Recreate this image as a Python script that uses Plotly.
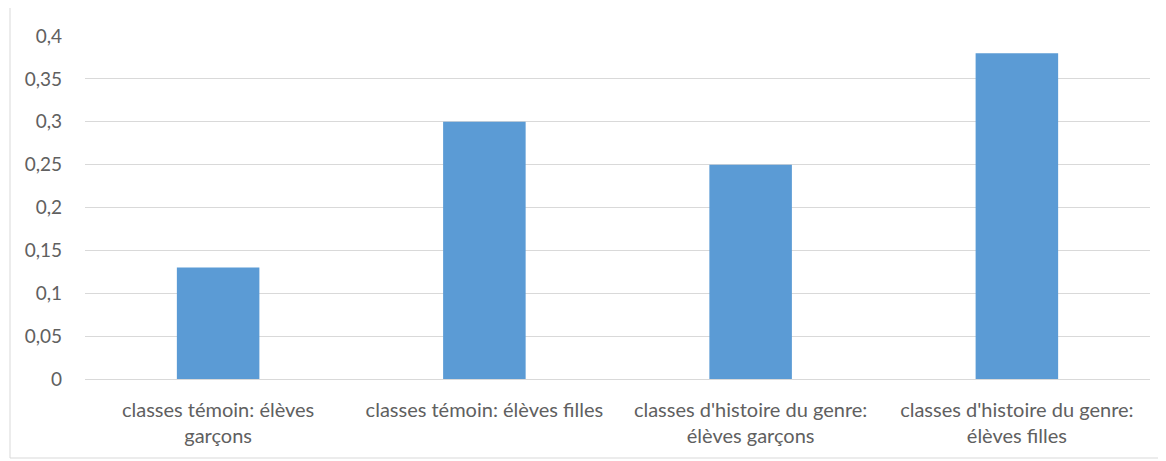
import plotly.graph_objects as go

categories = [
    "classes témoin: élèves<br>garçons",
    "classes témoin: élèves filles",
    "classes d'histoire du genre:<br>élèves garçons",
    "classes d'histoire du genre:<br>élèves filles",
]
values = [0.13, 0.30, 0.25, 0.38]
y_ticks = [0, 0.05, 0.1, 0.15, 0.2, 0.25, 0.3, 0.35, 0.4]

# page body has an 8px default margin, so the figure is sized to fit the window
W, H = 1158, 453
ml, mr, mt, mb = 77, 16, 28, 82
pw, ph = W - ml - mr, H - mt - mb
txt = "#606060"

fig = go.Figure(go.Bar(
    x=categories, y=values,
    marker=dict(color="#5B9BD5", line=dict(width=0)),
    hoverinfo="skip",
))

fig.update_layout(
    width=W, height=H,
    margin=dict(l=ml, r=mr, t=mt, b=mb, pad=0),
    paper_bgcolor="white", plot_bgcolor="white",
    separators=", ",
    bargap=0.69,
    showlegend=False,
    font=dict(family="Lato, Carlito, Calibri, sans-serif", size=20, color=txt),
)
fig.update_xaxes(
    showgrid=False, showline=True, linecolor="#d9d9d9", linewidth=1,
    ticks="", ticklabelstandoff=13, tickfont=dict(size=20, color=txt),
    automargin=False,
)
fig.update_yaxes(
    range=[0, 0.4], tickvals=y_ticks,
    showgrid=True, gridcolor="#d9d9d9", gridwidth=1,
    zeroline=False, showline=False, ticks="",
    ticklabelstandoff=22, tickfont=dict(size=19, color=txt),
    automargin=False,
)
# chart-area border (left and bottom edges visible)
bx = (2 - ml) / pw
by = -(450 - (H - mb)) / ph
fig.add_shape(type="line", xref="paper", yref="paper",
              x0=bx, x1=bx, y0=by, y1=1 + mt / ph,
              line=dict(color="#d9d9d9", width=1))
fig.add_shape(type="line", xref="paper", yref="paper",
              x0=bx, x1=1 + mr / pw, y0=by, y1=by,
              line=dict(color="#d9d9d9", width=1))

fig.write_html("out.html")
